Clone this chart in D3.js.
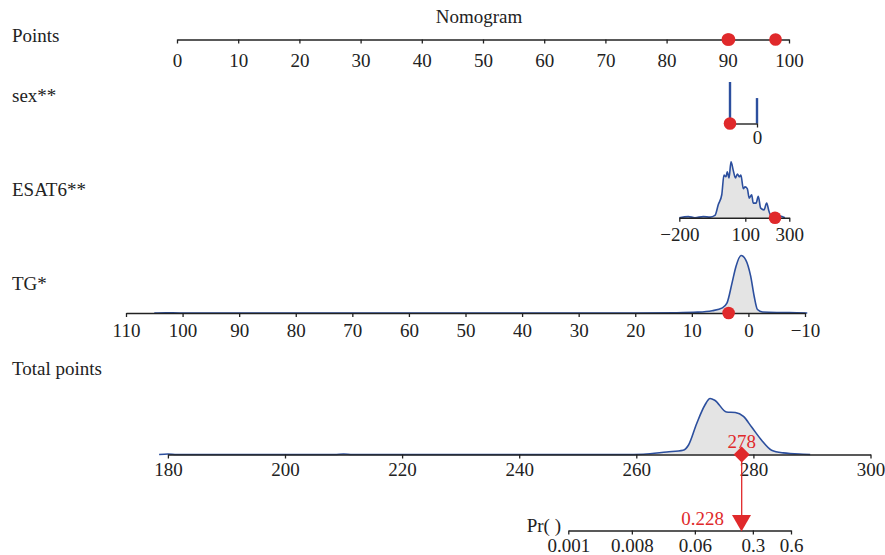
<!DOCTYPE html>
<html lang="en">
<head>
<meta charset="UTF-8" />
<script src="https://d3js.org/d3.v7.min.js"></script>
<title>Nomogram</title>
<style>
  body { margin: 0; background: #fff; }
  text { font-family: "Liberation Serif", "Times New Roman", serif; font-size: 19px; fill: #222; }
</style>
</head>
<body>
<script>
const width = 885, height = 555

// row labels
const rowLabels = ['Points', 'sex**', 'ESAT6**', 'TG*', 'Total points']
// axis ticks
const pointsTicks = d3.range(0, 101, 10)
const sexTicks = [0]
const esatTicks = [-200, 100, 300]
const tgTicks = d3.range(110, -11, -10)
const totalTicks = d3.range(180, 301, 20)
const prTicks = [0.001, 0.008, 0.06, 0.3, 0.6]
// distributions (value, relative density)
const sexValues = [0, 1]
const sexFreq = [0.38, 0.62]
const esatDensity = [[-200, 0], [-159, 0.02], [-129, 0], [-91, 0.02], [-60, 0.01], [-38, 0.04], [-23, 0.23], [-7, 0.41],
  [3, 0.76], [12, 0.73], [18, 0.82], [26, 0.71], [35, 1.0], [45, 0.85], [55, 0.71], [64, 0.78], [73, 0.73], [80, 0.76],
  [91, 0.52], [99, 0.55], [109, 0.52], [118, 0.35], [129, 0.41], [136, 0.26], [149, 0.26], [159, 0.38], [170, 0.17],
  [185, 0.14], [197, 0.26], [208, 0.11], [220, 0.02], [258, 0.03], [280, 0]]
const tgDensity = [[105, 0], [103, 0.005], [100.5, 0], [20, 0], [13, 0.005], [9, 0.015], [6.4, 0.04], [4.6, 0.09],
  [3.8, 0.17], [2.9, 0.52], [2.2, 0.81], [1.3, 1.0], [0.5, 0.93], [-0.4, 0.64], [-1.0, 0.3], [-1.6, 0.06],
  [-2.5, 0.017], [-5, 0.01], [-7.2, 0.009], [-10.4, 0]]
const totalDensity = [[178.5, 0], [180, 0.01], [181.5, 0], [208.5, 0], [210, 0.008], [211.5, 0], [258, 0],
  [261.2, 0.005], [265.2, 0.046], [268, 0.077], [268.9, 0.166], [270.3, 0.55], [271.7, 0.88], [272.6, 1.0],
  [273.4, 0.97], [275.4, 0.76], [276.9, 0.75], [278.3, 0.68], [279.7, 0.49], [281.4, 0.255], [283.1, 0.077],
  [285.1, 0.029], [288.5, 0.005], [289.7, 0]]
// selected observation
const selPoints = [90, 90.2, 97.8]
const selSex = 1, selEsat = 235, selTg = 3.5, selTotal = 278, selPr = 0.228

const red = '#e0292b', blue = '#2c4f9e', fillGray = '#e4e4e4', ink = '#222'
const logit = p => Math.log(p / (1 - p))

const svg = d3.select('body').append('svg').attr('width', width).attr('height', height)

// scales
const pointsX = d3.scaleLinear().domain([0, 100]).range([177, 789])
const sexX = d3.scaleLinear().domain([0, 1]).range([757, 730])
const esatX = d3.scaleLinear().domain([-200, 300]).range([679.3, 789.3])
const tgX = d3.scaleLinear().domain([110, -10]).range([126, 805])
const totalX = d3.scaleLinear().domain([180, 300]).range([167.9, 870.5])
const prX = d3.scaleLinear().domain([logit(0.001), logit(0.6)]).range([568.3, 791])

const axisY = { points: 39.5, sex: 123.5, esat: 217.7, tg: 313, total: 454.5, pr: 530.5 }

// densities
function density(data, x, y0, maxH) {
  const y = d3.scaleLinear().domain([0, 1]).range([y0, y0 - maxH])
  const area = d3.area().x(d => x(d[0])).y0(y0).y1(d => y(d[1])).curve(d3.curveMonotoneX)
  const line = d3.line().x(d => x(d[0])).y(d => y(d[1])).curve(d3.curveMonotoneX)
  svg.append('path').datum(data).attr('d', area).attr('fill', fillGray)
  svg.append('path').datum(data).attr('d', line).attr('fill', 'none')
    .attr('stroke', blue).attr('stroke-width', 1.6)
}
density(esatDensity, esatX, axisY.esat, 56)
density(tgDensity, tgX, axisY.tg, 57.5)
density(totalDensity, totalX, axisY.total, 56)

// sex bars
const sexY = d3.scaleLinear().domain([0, d3.max(sexFreq)]).range([axisY.sex, 82])
svg.selectAll('line.sex').data(sexValues).enter().append('line')
  .attr('x1', d => sexX(d)).attr('x2', d => sexX(d))
  .attr('y1', axisY.sex).attr('y2', (d, i) => sexY(sexFreq[i]))
  .attr('stroke', blue).attr('stroke-width', 2.4)

// axes
function drawAxis(x, y, ticks, labelY, fmt) {
  const ax = d3.axisBottom(x).tickValues(ticks).tickSize(4).tickSizeOuter(0)
    .tickFormat(fmt || d3.format('d'))
  const g = svg.append('g').attr('transform', `translate(0,${y})`).attr('color', ink).call(ax)
  g.select('.domain').attr('stroke-width', 1.4)
  g.selectAll('.tick line').attr('stroke-width', 1.3)
  g.selectAll('text').attr('dy', null).attr('y', labelY)
  return g
}
drawAxis(pointsX, axisY.points, pointsTicks, 27)
drawAxis(sexX, axisY.sex, sexTicks, 20)
drawAxis(esatX, axisY.esat, esatTicks, 23)
drawAxis(tgX, axisY.tg, tgTicks, 23.5)
drawAxis(totalX, axisY.total, totalTicks, 21)
drawAxis(prX, axisY.pr, prTicks.map(logit), 21.5, (d, i) => prTicks[i])

// labels
svg.append('text').attr('x', 479).attr('y', 22.5).attr('text-anchor', 'middle').text('Nomogram')
const labelY = [41.7, 101.7, 196, 290, 375]
svg.selectAll('text.row').data(rowLabels).enter().append('text')
  .attr('x', 12).attr('y', (d, i) => labelY[i]).text(d => d)
svg.append('text').attr('x', 561).attr('y', 532).attr('text-anchor', 'end').text('Pr( )')

// selected observation markers
svg.selectAll('circle.pts').data(selPoints).enter().append('circle')
  .attr('cx', d => pointsX(d)).attr('cy', axisY.points).attr('r', 6.3).attr('fill', red)
svg.append('circle').attr('cx', sexX(selSex)).attr('cy', axisY.sex).attr('r', 6.3).attr('fill', red)
svg.append('circle').attr('cx', esatX(selEsat)).attr('cy', axisY.esat).attr('r', 6.3).attr('fill', red)
svg.append('circle').attr('cx', tgX(selTg)).attr('cy', axisY.tg).attr('r', 6.3).attr('fill', red)

const tx = totalX(selTotal)
svg.append('line').attr('x1', tx).attr('x2', tx).attr('y1', axisY.total).attr('y2', 522)
  .attr('stroke', red).attr('stroke-width', 1.3)
svg.append('path').attr('d', d3.symbol(d3.symbolSquare, 128)())
  .attr('transform', `translate(${tx},${axisY.total}) rotate(45)`).attr('fill', red)
svg.append('text').attr('x', tx).attr('y', 448).attr('text-anchor', 'middle').style('fill', red).text(selTotal)

const px = prX(logit(selPr))
svg.append('path').attr('d', d3.symbol(d3.symbolTriangle, 156)())
  .attr('transform', `translate(${px},520.5) rotate(180)`).attr('fill', red)
svg.append('text').attr('x', 724).attr('y', 525).attr('text-anchor', 'end').style('fill', red).text(selPr)
</script>
</body>
</html>
